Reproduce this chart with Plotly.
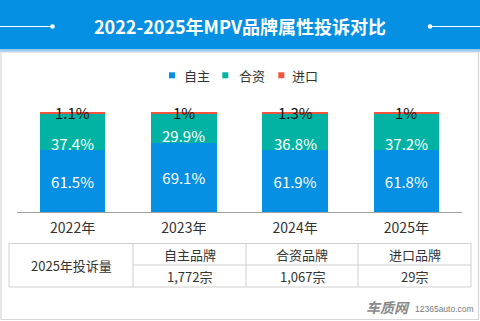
import plotly.graph_objects as go

# ---- data ----
years = ["2022年", "2023年", "2024年", "2025年"]
series_names = ["自主", "合资", "进口"]
domestic = [61.5, 69.1, 61.9, 61.8]
joint = [37.4, 29.9, 36.8, 37.2]
imported = [1.1, 1.0, 1.3, 1.0]
series_colors = ["#0590E3", "#02B3A3", "#F4533D"]

table_title = "2025年投诉量"
brand_types = ["自主品牌", "合资品牌", "进口品牌"]
complaints_2025 = [1772, 1067, 29]

W, H = 480, 321
FONT = "Noto Sans CJK SC, Noto Sans, sans-serif"
TEXT = "#333333"


def px(x):
    return x / W


def py(y):
    return 1 - y / H


def pct(v):
    return f"{v:g}%"


fig = go.Figure()

fig.add_trace(go.Bar(
    x=years, y=domestic, name=series_names[0], marker_color=series_colors[0],
    text=[pct(v) for v in domestic], textposition="inside", insidetextanchor="middle",
    textangle=0, textfont=dict(color="white", size=15, family=FONT),
    marker_line_width=0, showlegend=False, hoverinfo="skip",
))
fig.add_trace(go.Bar(
    x=years, y=joint, name=series_names[1], marker_color=series_colors[1],
    textposition="none", marker_line_width=0, showlegend=False, hoverinfo="skip",
))
fig.add_trace(go.Bar(
    x=years, y=imported, name=series_names[2], marker_color=series_colors[2],
    textposition="none", marker_line_width=0, showlegend=False, hoverinfo="skip",
))

annotations = []
shapes = []

for yr, a, b, c in zip(years, domestic, joint, imported):
    # joint-venture share, sitting low in its segment
    annotations.append(dict(
        x=yr, y=a, xref="x", yref="y", text=pct(b), showarrow=False,
        xanchor="center", yanchor="middle", yshift=7,
        font=dict(color="white", size=15, family=FONT),
    ))
    # imported share on the top edge of each stack
    annotations.append(dict(
        x=yr, y=a + b + c, xref="x", yref="y", text=pct(c), showarrow=False,
        xanchor="center", yanchor="middle", yshift=-1,
        font=dict(color="#111111", size=15, family=FONT),
    ))

# header band
shapes.append(dict(type="rect", xref="paper", yref="paper", x0=0, x1=1,
                   y0=py(49.5), y1=1, fillcolor="#0590E3", line_width=0, layer="below"))
shapes.append(dict(type="rect", xref="paper", yref="paper", x0=0, x1=1,
                   y0=py(52), y1=py(49.5), fillcolor="#9ED2F3", line_width=0, layer="below"))
# card border
shapes.append(dict(type="rect", xref="paper", yref="paper", x0=px(1), x1=px(478.5),
                   y0=py(319.5), y1=py(52), fillcolor="rgba(0,0,0,0)",
                   line=dict(color="#D6D6D6", width=1.2), layer="below"))
# decorative lines + dots in header
for x0, x1, dx in [(0, 52.5, 52.5), (430, 480, 430)]:
    shapes.append(dict(type="line", xref="paper", yref="paper", x0=px(x0), x1=px(x1),
                       y0=py(26.5), y1=py(26.5), line=dict(color="white", width=1.2)))
    shapes.append(dict(type="circle", xref="paper", yref="paper",
                       x0=px(dx - 2.3), x1=px(dx + 2.3), y0=py(28.8), y1=py(24.2),
                       fillcolor="white", line_width=0))

annotations.append(dict(
    x=0.5, y=py(26), xref="paper", yref="paper", showarrow=False,
    text="<b>2022-2025年MPV品牌属性投诉对比</b>", xanchor="center", yanchor="middle",
    font=dict(color="white", size=18, family=FONT),
))

# legend
legend_sq_x = [172, 225.3, 281.3]
legend_tx_x = [181.5, 236.5, 290]
for name, col, sx, tx in zip(series_names, series_colors, legend_sq_x, legend_tx_x):
    shapes.append(dict(type="rect", xref="paper", yref="paper", x0=px(sx - 3), x1=px(sx + 3),
                       y0=py(78.3), y1=py(72.3), fillcolor=col, line_width=0))
    annotations.append(dict(x=px(tx), y=py(75.5), xref="paper", yref="paper", showarrow=False,
                            xanchor="left", yanchor="middle", text=name,
                            font=dict(color=TEXT, size=13, family=FONT)))

# table
grid = dict(color="#CFCFCF", width=1)
tl, tr, tt, tm, tb = 9, 471, 243.5, 265, 287
cols = [133, 246, 358]
shapes.append(dict(type="rect", xref="paper", yref="paper", x0=px(tl), x1=px(tr),
                   y0=py(tb), y1=py(tt), line=grid, fillcolor="rgba(0,0,0,0)"))
shapes.append(dict(type="line", xref="paper", yref="paper", x0=px(cols[0]), x1=px(tr),
                   y0=py(tm), y1=py(tm), line=grid))
for cx in cols:
    shapes.append(dict(type="line", xref="paper", yref="paper", x0=px(cx), x1=px(cx),
                       y0=py(tb), y1=py(tt), line=grid))

annotations.append(dict(x=px((tl + cols[0]) / 2), y=py((tt + tb) / 2), xref="paper", yref="paper",
                        showarrow=False, text=table_title, xanchor="center", yanchor="middle",
                        font=dict(color=TEXT, size=13, family=FONT)))
edges = cols + [tr]
for i, (label, n) in enumerate(zip(brand_types, complaints_2025)):
    cx = (edges[i] + edges[i + 1]) / 2
    annotations.append(dict(x=px(cx), y=py((tt + tm) / 2), xref="paper", yref="paper",
                            showarrow=False, text=label, xanchor="center", yanchor="middle",
                            font=dict(color=TEXT, size=13, family=FONT)))
    annotations.append(dict(x=px(cx), y=py((tm + tb) / 2), xref="paper", yref="paper",
                            showarrow=False, text=f"{n:,}宗", xanchor="center", yanchor="middle",
                            font=dict(color=TEXT, size=13, family=FONT)))

# site mark
annotations.append(dict(x=px(412), y=py(307), xref="paper", yref="paper", showarrow=False,
                        xanchor="right", yanchor="middle", text="<b><i>车质网</i></b>",
                        font=dict(color="#8A8A8A", size=14, family=FONT)))
annotations.append(dict(x=px(413), y=py(309), xref="paper", yref="paper", showarrow=False,
                        xanchor="left", yanchor="middle", text="12365auto.com",
                        font=dict(color="#7A7A7A", size=8.5,
                                  family="Liberation Sans, Arial, sans-serif")))

fig.update_layout(
    width=W, height=H, margin=dict(l=0, r=0, t=0, b=0),
    paper_bgcolor="white", plot_bgcolor="white",
    barmode="stack", bargap=0.41, showlegend=False,
    font=dict(family=FONT, color=TEXT),
    xaxis=dict(domain=[px(17), px(462)], showline=True, linecolor="#A0A0A0", linewidth=1,
               ticks="", showgrid=False, fixedrange=True, ticklabelstandoff=3,
               tickfont=dict(size=14, color=TEXT, family=FONT)),
    yaxis=dict(domain=[py(212.3), py(111.7)], range=[0, 100], visible=False,
               showgrid=False, fixedrange=True),
    shapes=shapes, annotations=annotations,
)

fig.write_html("out.html")
